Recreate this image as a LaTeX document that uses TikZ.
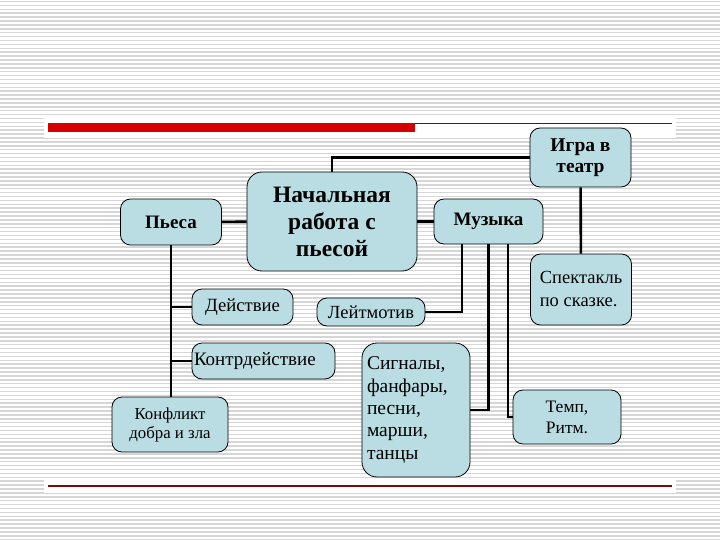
\documentclass[tikz,border=0pt]{standalone}
\usepackage{fontspec}
\setmainfont{Liberation Serif}
\definecolor{boxfill}{RGB}{185,221,227}
\definecolor{barred}{RGB}{214,0,0}
\definecolor{darkred}{RGB}{120,10,10}
\definecolor{stripe}{RGB}{214,214,214}
\begin{document}
\begin{tikzpicture}[x=1pt, y=-1pt]
\tikzstyle{block} = [draw, fill=boxfill, rectangle, rounded corners=10pt, line width=0.8pt, text centered, inner sep=2pt]
\tikzstyle{head} = [block, font=\fontsize{19}{21}\selectfont\bfseries]
\tikzstyle{plain} = [block, font=\fontsize{17.5}{21}\selectfont]
\tikzstyle{line} = [draw, line width=2.6pt]

\useasboundingbox (0,0) rectangle (720,540);
\foreach \y in {1.5,5.4,...,540} \draw[stripe, line width=1.5pt] (0,\y) -- (720,\y);

\fill[white] (44,116) rectangle (676,138);
\fill[barred] (48,123) rectangle (415,132);
\draw[darkred, line width=1pt] (415,123.5) -- (672,123.5);
\fill[white] (44,480) rectangle (676,493);
\draw[darkred, line width=1.5pt] (48,486) -- (672,486);

\node [head, minimum width=101pt, minimum height=46pt] (pesa) at (171,222) {Пьеса};
\node [head, minimum width=170pt, minimum height=99pt, rounded corners=15pt, align=center, font=\fontsize{23.5}{27}\selectfont\bfseries] (nach) at (332,221.5) {Начальная\\работа с\\пьесой};
\node [head, minimum width=101pt, minimum height=59pt, align=center, font=\fontsize{19.5}{21}\selectfont\bfseries] (igra) at (580.5,157.5) {Игра в\\театр};
\node [head, minimum width=109pt, minimum height=45pt] (muz) at (488.5,221.5) {Музыка};
\node [plain, minimum width=101pt, minimum height=71pt, align=left, font=\fontsize{18.5}{23}\selectfont] (spek) at (581,289.5) {Спектакль\\по сказке.};
\node [plain, minimum width=101pt, minimum height=36pt, font=\fontsize{18.7}{21}\selectfont] (deis) at (242.5,307) {Действие};
\node [plain, minimum width=108pt, minimum height=28pt, font=\fontsize{18.5}{20}\selectfont] (leit) at (371,312) {Лейтмотив};
\node [plain, minimum width=143pt, minimum height=36pt, text width=139pt, align=left, inner sep=1pt, font=\fontsize{19}{21}\selectfont] (kontr) at (263.5,361) {Контрдействие};
\node [plain, minimum width=116pt, minimum height=55pt, align=center, font=\fontsize{16.8}{19}\selectfont] (konf) at (170,424.5) {Конфликт\\добра и зла};
\node [plain, minimum width=108pt, minimum height=134pt, text width=98pt, align=left, rounded corners=15pt, font=\fontsize{19.5}{22.3}\selectfont] (sig) at (416,410) {Сигналы,\\фанфары,\\песни,\\марши,\\танцы};
\node [plain, minimum width=108pt, minimum height=54pt, align=center] (temp) at (567,417) {Темп,\\Ритм.};

\path [line] (pesa) -- (nach);
\path [line] (nach) -- (muz);
\path [line] (nach.north) |- (igra.west);
\path [line] (igra) -- (spek);
\path [line] (pesa.south) -- (pesa.south |- konf.north);
\path [line] (pesa.south |- deis.west) -- (deis.west);
\path [line] (pesa.south |- kontr.west) -- (kontr.west);
\path [line] ([xshift=-26.5pt]muz.south) |- (leit.east);
\path [line] (muz.south) |- (sig.east);
\path [line] ([xshift=19.5pt]muz.south) |- (temp.west);

\end{tikzpicture}
\end{document}
